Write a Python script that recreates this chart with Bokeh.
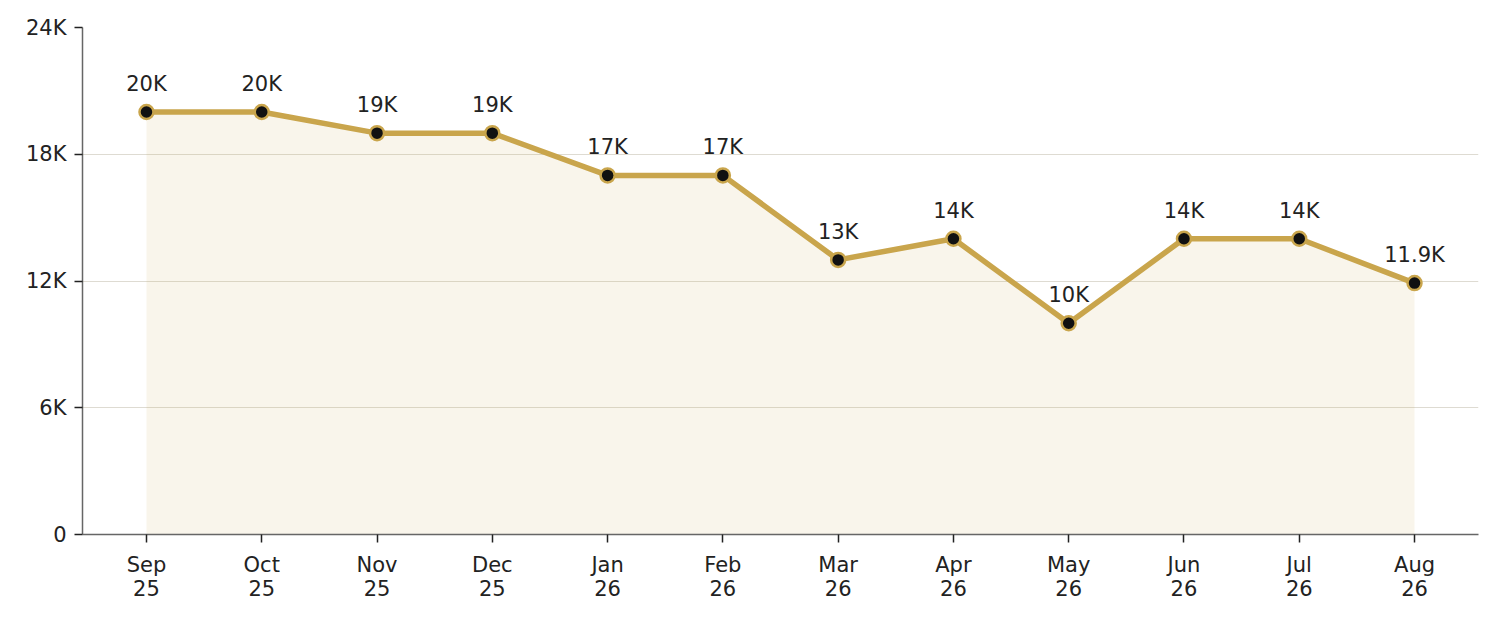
from bokeh.plotting import figure
from bokeh.models import ColumnDataSource, FixedTicker, Range1d
from bokeh.core.properties import value
from bokeh.embed import file_html
from bokeh.resources import INLINE

# monthly values, Sep 2025 - Aug 2026
months = ['Sep', 'Oct', 'Nov', 'Dec', 'Jan', 'Feb', 'Mar', 'Apr', 'May', 'Jun', 'Jul', 'Aug']
years = ['25', '25', '25', '25', '26', '26', '26', '26', '26', '26', '26', '26']
counts = [20000, 20000, 19000, 19000, 17000, 17000, 13000, 14000, 10000, 14000, 14000, 11900]
point_labels = ['20K', '20K', '19K', '19K', '17K', '17K', '13K', '14K', '10K', '14K', '14K', '11.9K']
y_ticks = [0, 6000, 12000, 18000, 24000]
y_tick_labels = ['0', '6K', '12K', '18K', '24K']

gold = '#C9A54C'
font = 'DejaVu Sans'

x = list(range(len(months)))
src = ColumnDataSource(data=dict(x=x, y=counts, label=point_labels, base=[0] * len(x)))

p = figure(width=1481, height=603, output_backend="svg", toolbar_location=None,
           x_range=Range1d(-0.555, len(x) - 1 + 0.555), y_range=Range1d(0, 24000),
           min_border_left=82, min_border_right=3, min_border_top=27, min_border_bottom=69)
p.outline_line_color = None

# light area under the line
p.varea(x='x', y1='base', y2='y', source=src, fill_color=gold, fill_alpha=0.11)
p.line(x='x', y='y', source=src, line_color=gold, line_width=5.5)
p.scatter(x='x', y='y', source=src, size=14, fill_color='#111111',
          line_color=gold, line_width=2.5)
p.text(x='x', y='y', text='label', source=src, text_align='center',
       text_baseline='bottom', y_offset=-16, text_font=value(font),
       text_font_size='21px', text_color='#222222')

# axes
p.xaxis.ticker = FixedTicker(ticks=x)
p.xaxis.major_label_overrides = {i: f'{m}\n{yr}' for i, (m, yr) in enumerate(zip(months, years))}
p.yaxis.ticker = FixedTicker(ticks=y_ticks)
p.yaxis.major_label_overrides = dict(zip(y_ticks, y_tick_labels))

for ax in (p.xaxis, p.yaxis):
    ax.axis_line_color = '#666666'
    ax.axis_line_width = 1.5
    ax.major_tick_line_color = '#222222'
    ax.major_tick_line_width = 1.5
    ax.major_tick_out = 8
    ax.major_tick_in = 0
    ax.minor_tick_line_color = None
    ax.major_label_text_font = font
    ax.major_label_text_font_size = '21px'
    ax.major_label_text_color = '#222222'
    ax.major_label_text_line_height = 1.0
p.yaxis.major_label_standoff = 8
p.xaxis.major_label_standoff = 10

p.xgrid.grid_line_color = None
p.ygrid.grid_line_color = '#dedbd2'
p.ygrid.grid_line_width = 1.2

open("out.html", "w").write(file_html(p, INLINE))
